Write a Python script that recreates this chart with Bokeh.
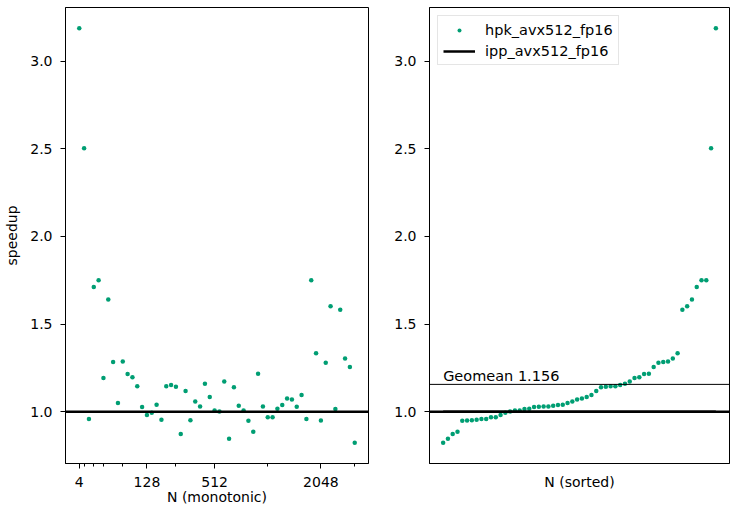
from bokeh.plotting import figure
from bokeh.layouts import row
from bokeh.models import Range1d, FixedTicker, Span, Label, Legend, LegendItem, PrintfTickFormatter
from bokeh.embed import file_html
from bokeh.resources import INLINE

# Speedup of hpk over ipp per transform size, in increasing order of N
SPEEDUP = [3.187, 2.503, 0.958, 1.712, 1.750, 1.193, 1.640, 1.284, 1.050, 1.287,
           1.215, 1.196, 1.145, 1.027, 0.981, 0.994, 1.040, 0.954, 1.145, 1.152,
           1.143, 0.873, 1.118, 0.952, 1.059, 1.030, 1.160, 1.084, 1.007, 1.002,
           1.173, 0.846, 1.139, 1.034, 1.007, 0.949, 0.886, 1.217, 1.030, 0.968,
           0.968, 1.017, 1.038, 1.076, 1.070, 1.029, 1.095, 0.958, 1.750, 1.333,
           0.950, 1.280, 1.602, 1.015, 1.581, 1.303, 1.255, 0.823]

# Position (index in the size list) of the labelled sizes
X_TICK_POS = [0, 14, 28, 50]
X_TICK_LABELS = ["4", "128", "512", "2048"]
X_MINOR_POS = [1, 3, 5, 9, 20, 39, 57]
Y_TICKS = [1.0, 1.5, 2.0, 2.5, 3.0]

BASELINE = 1.0
GEOMEAN = 1.156
HPK_LABEL = "hpk_avx512_fp16"
IPP_LABEL = "ipp_avx512_fp16"

FONT = "DejaVu Sans"
GREEN = "#009e73"

n = len(SPEEDUP)
idx = list(range(n))
sorted_speedup = sorted(SPEEDUP)
baseline = [BASELINE] * n
xpad = 0.05 * (n - 1)
ylo, yhi = min(SPEEDUP), max(SPEEDUP)
ypad = 0.05 * (yhi - ylo)


def make_fig(width, border_left, border_right):
    p = figure(width=width, height=511, output_backend="svg", toolbar_location=None,
               x_range=Range1d(-xpad, n - 1 + xpad),
               y_range=Range1d(ylo - ypad, yhi + ypad),
               min_border_left=border_left, min_border_right=border_right,
               min_border_top=7, min_border_bottom=48)
    p.xgrid.visible = False
    p.ygrid.visible = False
    p.outline_line_color = "black"
    p.outline_line_alpha = 1.0
    p.background_fill_color = "white"
    p.border_fill_color = "white"
    for ax in (p.xaxis[0], p.yaxis[0]):
        ax.axis_line_color = "black"
        ax.major_tick_line_color = "black"
        ax.minor_tick_line_color = "black"
        ax.major_tick_out = 5
        ax.major_tick_in = 0
        ax.minor_tick_out = 3
        ax.minor_tick_in = 0
        ax.major_label_text_font = FONT
        ax.major_label_text_font_size = "14px"
        ax.major_label_text_color = "black"
        ax.major_label_standoff = 8
        ax.axis_label_text_font = FONT
        ax.axis_label_text_font_size = "14px"
        ax.axis_label_text_font_style = "normal"
        ax.axis_label_text_color = "black"
    p.yaxis.ticker = FixedTicker(ticks=Y_TICKS, minor_ticks=[])
    p.yaxis.formatter = PrintfTickFormatter(format="%.1f")
    return p


# Left: speedup against N in increasing order
p1 = make_fig(380, 65, 12)
p1.scatter(idx, SPEEDUP, size=4.5, color=GREEN, line_color=None)
p1.add_layout(Span(location=BASELINE, dimension="width", line_color="black", line_width=2.5))
p1.xaxis.ticker = FixedTicker(ticks=X_TICK_POS, minor_ticks=X_MINOR_POS)
p1.xaxis.major_label_overrides = {k: v for k, v in zip(X_TICK_POS, X_TICK_LABELS)}
p1.xaxis.axis_label = "N (monotonic)"
p1.xaxis.axis_label_standoff = -1
p1.yaxis.axis_label = "speedup"
p1.yaxis.axis_label_standoff = 7

# Right: the same speedups sorted, with their geometric mean
p2 = make_fig(350, 49, 1)
r_hpk = p2.scatter(idx, sorted_speedup, size=4.5, color=GREEN, line_color=None)
r_ipp = p2.line(idx, baseline, line_color="black", line_width=2.5)
p2.add_layout(Span(location=BASELINE, dimension="width", line_color="black", line_width=2.5))
p2.add_layout(Span(location=GEOMEAN, dimension="width", line_color="black", line_width=1))
p2.add_layout(Label(x=0, y=GEOMEAN, text=f"Geomean {GEOMEAN:.3f}", text_font=FONT,
                    text_font_size="14.5px", text_color="black",
                    text_baseline="bottom", text_align="left"))
p2.xaxis.ticker = FixedTicker(ticks=[], minor_ticks=[])
p2.xaxis.axis_label = "N (sorted)"
p2.xaxis.axis_label_standoff = 10

legend = Legend(items=[LegendItem(label=HPK_LABEL, renderers=[r_hpk]),
                       LegendItem(label=IPP_LABEL, renderers=[r_ipp])],
                location="top_left", margin=8, padding=5, spacing=4,
                glyph_height=10, glyph_width=32, label_height=17, label_standoff=10,
                label_text_font=FONT, label_text_font_size="14.5px",
                label_text_color="black",
                border_line_color="#cccccc", border_line_width=1,
                background_fill_alpha=0.8)
p2.add_layout(legend)

layout = row(p1, p2)
open("out.html", "w").write(file_html(layout, INLINE))
